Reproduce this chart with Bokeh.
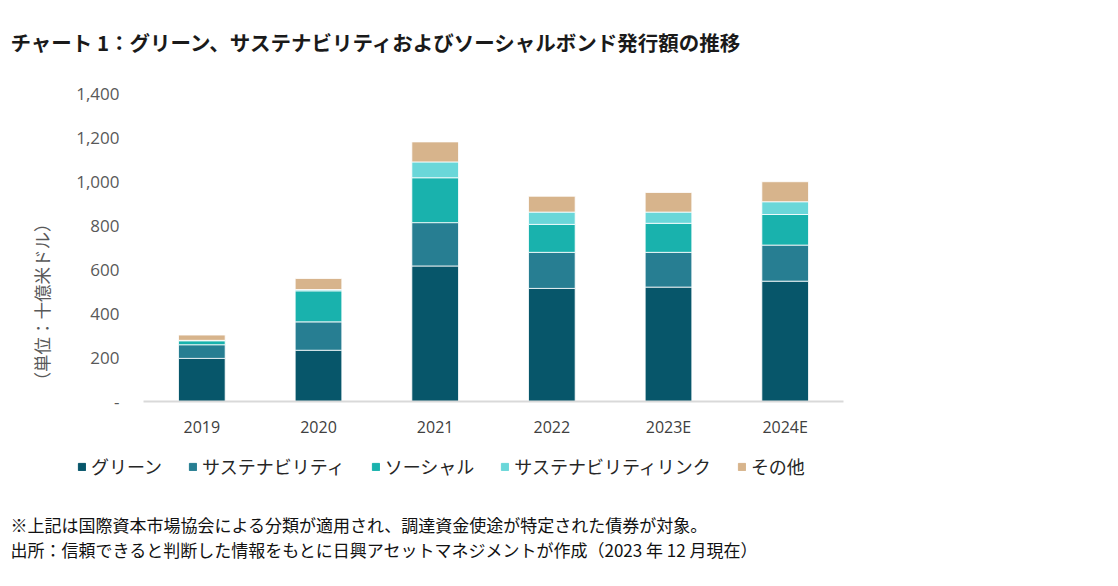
from bokeh.plotting import figure
from bokeh.models import (ColumnDataSource, FactorRange, Range1d, FixedTicker,
                          NumeralTickFormatter, Legend, LegendItem, Title, Label)
from bokeh.embed import file_html
from bokeh.resources import INLINE

years = ["2019", "2020", "2021", "2022", "2023E", "2024E"]
green = [196, 233, 616, 514, 520, 547]
sustainability = [62, 129, 197, 164, 158, 164]
social = [18, 141, 204, 127, 132, 139]
sll = [2, 6, 72, 56, 51, 58]
other = [24, 50, 91, 72, 89, 91]

series_keys = ["green", "sust", "social", "sll", "other"]
series_names = ["グリーン", "サステナビリティ", "ソーシャル", "サステナビリティリンク", "その他"]
colors = ["#07566A", "#277E92", "#19B2AD", "#6AD7D9", "#D7B48C"]
y_ticks = [0, 200, 400, 600, 800, 1000, 1200, 1400]

title_text = "チャート 1：グリーン、サステナビリティおよびソーシャルボンド発行額の推移"
y_label = "（単位：十億米ドル）"
note1 = "※上記は国際資本市場協会による分類が適用され、調達資金使途が特定された債券が対象。"
note2 = "出所：信頼できると判断した情報をもとに日興アセットマネジメントが作成（2023 年 12 月現在）"

CJK = "Noto Sans CJK JP"
W = 1100

source = ColumnDataSource(dict(years=years, green=green, sust=sustainability,
                               social=social, sll=sll, other=other))


def blank_fig(h, x_range=None):
    f = figure(width=W, height=h, x_range=x_range if x_range is not None else Range1d(0, W),
               y_range=Range1d(0, h), x_axis_type=None if x_range is None else "auto",
               y_axis_type=None, output_backend="svg", toolbar_location=None,
               min_border=0)
    f.outline_line_color = None
    f.xgrid.visible = False
    f.ygrid.visible = False
    for ax in f.xaxis:
        ax.visible = False
    return f


# ---- title strip
head = blank_fig(70)
head.add_layout(Label(x=10, y=29, x_units="screen", y_units="screen", text=title_text,
                      text_font=CJK, text_font_size="20.5px", text_font_style="bold",
                      text_color="#1a1a1a", text_baseline="middle", text_align="left"))

# ---- chart
p = figure(width=W, height=370, x_range=FactorRange(*years, range_padding=0),
           y_range=Range1d(0, 1400), output_backend="svg", toolbar_location=None,
           min_border_left=143, min_border_right=257, min_border_top=23,
           min_border_bottom=37)
p.outline_line_color = None
p.xgrid.grid_line_color = None
p.ygrid.grid_line_color = None

p.vbar_stack(series_keys, x="years", width=0.4, color=colors,
             line_color="white", line_width=0.8, source=source)

p.yaxis.ticker = FixedTicker(ticks=y_ticks)
p.yaxis.formatter = NumeralTickFormatter(format="0,0")
p.yaxis.major_label_overrides = {0: "-"}
p.yaxis.axis_line_color = None
p.yaxis.major_tick_line_color = None
p.yaxis.major_tick_out = 0
p.yaxis.minor_tick_line_color = None
p.yaxis.minor_tick_out = 0
p.yaxis.major_label_standoff = 24
p.yaxis.major_label_text_font = "Open Sans"
p.yaxis.major_label_text_font_size = "17px"
p.yaxis.major_label_text_color = "#595959"

p.xaxis.axis_line_color = "#d9d9d9"
p.xaxis.axis_line_width = 2
p.xaxis.major_tick_line_color = None
p.xaxis.major_tick_out = 0
p.xaxis.minor_tick_line_color = None
p.xaxis.minor_tick_out = 0
p.xaxis.major_label_standoff = 14
p.xaxis.major_label_text_font = "Open Sans"
p.xaxis.major_label_text_font_size = "16px"
p.xaxis.major_label_text_color = "#404040"

p.add_layout(Title(text=y_label, align="left", offset=12, standoff=40,
                   text_font=CJK, text_font_size="17.5px", text_font_style="normal",
                   text_color="#595959"), "left")

# ---- legend + notes strip (legend swatches come from hidden copies of the series)
foot = blank_fig(130, x_range=FactorRange(*years))
leg_renderers = foot.vbar_stack(series_keys, x="years", width=0.4, color=colors,
                                source=source, visible=False)
items = [LegendItem(label=n, renderers=[r]) for n, r in zip(series_names, leg_renderers)]
legend = Legend(items=items, orientation="horizontal", location=(77, 91),
                label_text_font=CJK, label_text_font_size="18px",
                label_text_color="#262626", glyph_width=9, glyph_height=9,
                label_standoff=5, spacing=26, padding=0, margin=0,
                border_line_alpha=0, background_fill_alpha=0)
foot.add_layout(legend)
foot.add_layout(Label(x=10, y=46, x_units="screen", y_units="screen", text=note1,
                      text_font=CJK, text_font_size="17px", text_color="#111111",
                      text_baseline="middle", text_align="left"))
foot.add_layout(Label(x=10, y=21, x_units="screen", y_units="screen", text=note2,
                      text_font=CJK, text_font_size="17px", text_color="#111111",
                      text_baseline="middle", text_align="left"))

open("out.html", "w").write(file_html([head, p, foot], INLINE))
